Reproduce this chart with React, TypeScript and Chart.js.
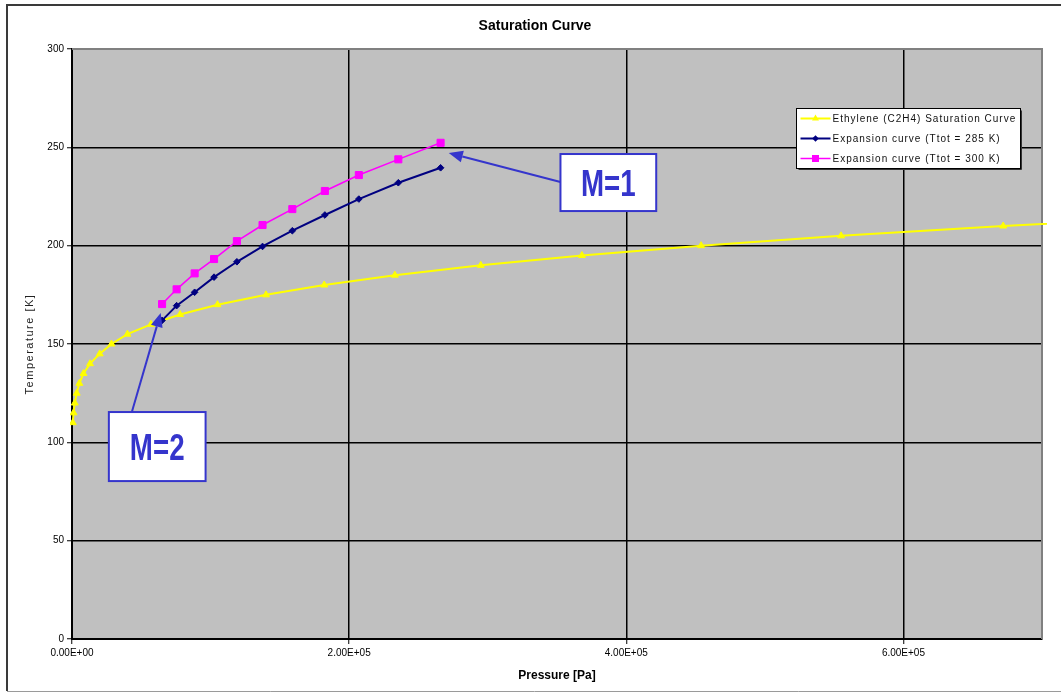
import React, { useEffect, useRef } from "react";
import { Chart, registerables } from "chart.js";

Chart.register(...registerables);

// ---------- data ----------
const chartTitle = "Saturation Curve";
const xAxisTitle = "Pressure [Pa]";
const yAxisTitle = "Temperature [K]";

const seriesLabels = [
  "Ethylene (C2H4) Saturation Curve",
  "Expansion curve (Ttot = 285 K)",
  "Expansion curve (Ttot = 300 K)",
];

// Ethylene saturation curve: temperature [K] vs pressure [Pa]
const satTemps = [110, 115, 120, 125, 130, 135, 140, 145, 150, 155, 160, 165, 170, 175, 180, 185, 190, 195, 200, 205, 210, 215];
const satPressures = [600, 1100, 2000, 3400, 5300, 8300, 13000, 20000, 28500, 40000, 57000, 78000, 105000, 140000, 182000, 233000, 295000, 368000, 454000, 555000, 672000, 810000];

// Expansion curves (shared pressures)
const expPressures = [65000, 75500, 88500, 102500, 119000, 137500, 159000, 182500, 207000, 235500, 266000];
const exp285Temps = [162, 169.5, 176.3, 184, 191.8, 199.6, 207.6, 215.6, 223.7, 232, 239.6];
const exp300Temps = [170.3, 177.8, 185.9, 193.2, 202.3, 210.5, 218.6, 227.8, 235.9, 243.9, 252.3];

const xTickValues = [0, 200000, 400000, 600000];
const xTickLabels = ["0.00E+00", "2.00E+05", "4.00E+05", "6.00E+05"];
const yTickValues = [0, 50, 100, 150, 200, 250, 300];
const yTickLabels = ["0", "50", "100", "150", "200", "250", "300"];

const annotationLabels = ["M=1", "M=2"];

// ---------- layout / style config ----------
const FONT = '"Liberation Sans", Arial, sans-serif';
const seriesColors = ["#FFFF00", "#000080", "#FF00FF"];
const annColor = "#3535CC";
// annotation geometry in data space (pressure, temperature)
const annotationGeom = [
  { box: [352500, 246.6, 421600, 217.6], from: [352500, 232.4], to: [271900, 247.1] },
  { box: [26600, 115.4, 96400, 80.3], from: [43200, 115.4], to: [64000, 165.8] },
];

function drawMarker(ctx: CanvasRenderingContext2D, kind: string, x: number, y: number, color: string) {
  ctx.save();
  ctx.fillStyle = color;
  ctx.strokeStyle = color;
  ctx.beginPath();
  if (kind === "triangle") {
    const r = 4;
    ctx.moveTo(x, y - r);
    ctx.lineTo(x + r * 0.866, y + r * 0.5);
    ctx.lineTo(x - r * 0.866, y + r * 0.5);
  } else if (kind === "rectRot") {
    const r = 3.3;
    ctx.moveTo(x, y - r);
    ctx.lineTo(x + r, y);
    ctx.lineTo(x, y + r);
    ctx.lineTo(x - r, y);
  } else {
    const s = 3.5;
    ctx.rect(x - s, y - s, 2 * s, 2 * s);
  }
  ctx.closePath();
  ctx.fill();
  ctx.restore();
}

const decorPlugin = {
  id: "decor",
  beforeDraw(chart: any) {
    const { ctx, chartArea: a, width, height } = chart;
    ctx.save();
    ctx.fillStyle = "#ffffff";
    ctx.fillRect(0, 0, width, height);
    // outer frame
    ctx.strokeStyle = "#3a3a3a";
    ctx.lineWidth = 2;
    ctx.beginPath();
    ctx.moveTo(width + 5, 5);
    ctx.lineTo(7, 5);
    ctx.lineTo(7, 691);
    ctx.stroke();
    ctx.strokeStyle = "#9a9a9a";
    ctx.lineWidth = 1;
    ctx.beginPath();
    ctx.moveTo(7, 691.5);
    ctx.lineTo(width + 5, 691.5);
    ctx.stroke();
    // plot area
    ctx.fillStyle = "#C0C0C0";
    ctx.fillRect(a.left, a.top, a.right - a.left, a.bottom - a.top);
    ctx.restore();
  },
  beforeDatasetsDraw(chart: any) {
    const { ctx, chartArea: a } = chart;
    ctx.save();
    ctx.strokeStyle = "#808080";
    ctx.lineWidth = 2;
    ctx.beginPath();
    ctx.moveTo(a.left, a.top);
    ctx.lineTo(a.right, a.top);
    ctx.lineTo(a.right, a.bottom);
    ctx.stroke();
    ctx.restore();
  },
  afterDraw(chart: any) {
    const { ctx, chartArea: a, width } = chart;
    const xs = chart.scales.x;
    const ys = chart.scales.y;
    ctx.save();
    // chart title
    ctx.fillStyle = "#000";
    ctx.font = `bold 14px ${FONT}`;
    ctx.textAlign = "center";
    ctx.textBaseline = "middle";
    ctx.fillText(chartTitle, 535, 26);
    // x title
    ctx.font = `bold 12px ${FONT}`;
    ctx.fillText(xAxisTitle, (a.left + a.right) / 2, 676);
    // y title
    ctx.save();
    ctx.translate(30, (a.top + a.bottom) / 2);
    ctx.rotate(-Math.PI / 2);
    ctx.font = `11px ${FONT}`;
    (ctx as any).letterSpacing = "1.5px";
    ctx.fillStyle = "#222";
    ctx.fillText(yAxisTitle, 0, 0);
    ctx.restore();

    // legend
    const lx = 796.5, ly = 108.5, lw = 224, lh = 60;
    ctx.fillStyle = "#fff";
    ctx.fillRect(lx, ly, lw, lh);
    ctx.strokeStyle = "#000";
    ctx.lineWidth = 1;
    ctx.strokeRect(lx, ly, lw, lh);
    ctx.strokeStyle = "#333";
    ctx.beginPath();
    ctx.moveTo(lx + lw + 1, ly + 2);
    ctx.lineTo(lx + lw + 1, ly + lh + 1);
    ctx.lineTo(lx + 2, ly + lh + 1);
    ctx.stroke();
    const kinds = ["triangle", "rectRot", "rect"];
    const widths = [2, 2, 1.5];
    seriesLabels.forEach((lab, i) => {
      const ry = ly + 10 + i * 20;
      ctx.strokeStyle = seriesColors[i];
      ctx.lineWidth = widths[i];
      ctx.beginPath();
      ctx.moveTo(lx + 4, ry);
      ctx.lineTo(lx + 34, ry);
      ctx.stroke();
      drawMarker(ctx, kinds[i], lx + 19, ry, seriesColors[i]);
      ctx.fillStyle = "#111";
      ctx.font = `10px ${FONT}`;
      (ctx as any).letterSpacing = "1px";
      ctx.textAlign = "left";
      ctx.textBaseline = "middle";
      ctx.fillText(lab, lx + 36, ry + 0.5);
      (ctx as any).letterSpacing = "0px";
    });

    // annotations
    annotationGeom.forEach((g, i) => {
      const fx = xs.getPixelForValue(g.from[0]);
      const fy = ys.getPixelForValue(g.from[1]);
      const tx = xs.getPixelForValue(g.to[0]);
      const ty = ys.getPixelForValue(g.to[1]);
      const dx = tx - fx, dy = ty - fy;
      const len = Math.hypot(dx, dy);
      const ux = dx / len, uy = dy / len;
      const L = 14, W = 6;
      const bx = tx - ux * L, by = ty - uy * L;
      ctx.strokeStyle = annColor;
      ctx.fillStyle = annColor;
      ctx.lineWidth = 2;
      ctx.beginPath();
      ctx.moveTo(fx, fy);
      ctx.lineTo(bx, by);
      ctx.stroke();
      ctx.beginPath();
      ctx.moveTo(tx, ty);
      ctx.lineTo(bx - uy * W, by + ux * W);
      ctx.lineTo(bx + uy * W, by - ux * W);
      ctx.closePath();
      ctx.fill();
      // box
      const x0 = xs.getPixelForValue(g.box[0]);
      const y0 = ys.getPixelForValue(g.box[1]);
      const x1 = xs.getPixelForValue(g.box[2]);
      const y1 = ys.getPixelForValue(g.box[3]);
      ctx.fillStyle = "#fff";
      ctx.fillRect(x0, y0, x1 - x0, y1 - y0);
      ctx.lineWidth = 2;
      ctx.strokeStyle = annColor;
      ctx.strokeRect(x0, y0, x1 - x0, y1 - y0);
      ctx.save();
      ctx.translate((x0 + x1) / 2, (y0 + y1) / 2 + 13);
      ctx.scale(0.77, 1);
      ctx.font = `bold 36px ${FONT}`;
      ctx.textAlign = "center";
      ctx.textBaseline = "alphabetic";
      ctx.fillStyle = annColor;
      ctx.fillText(annotationLabels[i], 0, 0);
      ctx.restore();
    });
    ctx.restore();
  },
};

export default function App() {
  const ref = useRef<HTMLCanvasElement | null>(null);

  useEffect(() => {
    document.body.style.margin = "0";
    const canvas = ref.current;
    if (!canvas) return;
    const toPts = (xs: number[], ys: number[]) => xs.map((x, i) => ({ x, y: ys[i] }));
    const chart = new Chart(canvas, {
      type: "line",
      data: {
        datasets: [
          {
            label: seriesLabels[0],
            data: toPts(satPressures, satTemps),
            borderColor: seriesColors[0],
            backgroundColor: seriesColors[0],
            borderWidth: 2,
            pointStyle: "triangle",
            pointRadius: 4,
            pointBorderWidth: 1,
            pointBorderColor: seriesColors[0],
            pointBackgroundColor: seriesColors[0],
            order: 3,
            clip: { left: 2, top: 2, right: 5, bottom: 2 },
          } as any,
          {
            label: seriesLabels[1],
            data: toPts(expPressures, exp285Temps),
            borderColor: seriesColors[1],
            backgroundColor: seriesColors[1],
            borderWidth: 2,
            pointStyle: "rectRot",
            pointRadius: 3.3,
            pointBorderWidth: 1,
            pointBorderColor: seriesColors[1],
            pointBackgroundColor: seriesColors[1],
            order: 2,
          },
          {
            label: seriesLabels[2],
            data: toPts(expPressures, exp300Temps),
            borderColor: seriesColors[2],
            backgroundColor: seriesColors[2],
            borderWidth: 1.5,
            pointStyle: "rect",
            pointRadius: 5,
            pointBorderWidth: 1,
            pointBorderColor: seriesColors[2],
            pointBackgroundColor: seriesColors[2],
            order: 1,
          },
        ],
      },
      options: {
        animation: false,
        responsive: false,
        events: [],
        layout: { padding: { left: 0, top: 49, right: 19, bottom: 0 } },
        plugins: {
          legend: { display: false },
          title: { display: false },
          tooltip: { enabled: false },
        },
        scales: {
          x: {
            type: "linear",
            min: 0,
            max: 700000,
            afterFit: (s: any) => { s.height = 61; },
            afterBuildTicks: (s: any) => { s.ticks = xTickValues.map((v) => ({ value: v })); },
            ticks: {
              autoSkip: false,
              maxRotation: 0,
              padding: 3,
              color: "#000",
              font: { family: FONT, size: 10 },
              callback: (v: any) => {
                const i = xTickValues.indexOf(Number(v));
                return i >= 0 ? xTickLabels[i] : "";
              },
            },
            grid: { color: "#000", lineWidth: 1.5, tickLength: 5, tickColor: "#000", tickWidth: 1 },
            border: { color: "#000", width: 2 },
          },
          y: {
            type: "linear",
            min: 0,
            max: 300,
            afterFit: (s: any) => { s.width = 72; },
            afterBuildTicks: (s: any) => { s.ticks = yTickValues.map((v) => ({ value: v })); },
            ticks: {
              autoSkip: false,
              padding: 3,
              color: "#000",
              font: { family: FONT, size: 10 },
              callback: (v: any) => {
                const i = yTickValues.indexOf(Number(v));
                return i >= 0 ? yTickLabels[i] : "";
              },
            },
            grid: { color: "#000", lineWidth: 1.5, tickLength: 5, tickColor: "#000", tickWidth: 1 },
            border: { color: "#000", width: 2 },
          },
        },
      },
      plugins: [decorPlugin],
    });
    return () => chart.destroy();
  }, []);

  return (
    <div style={{ width: 1061, height: 700, overflow: "hidden" }}>
      <canvas ref={ref} width={1061} height={700} style={{ display: "block", width: 1061, height: 700 }} />
    </div>
  );
}
